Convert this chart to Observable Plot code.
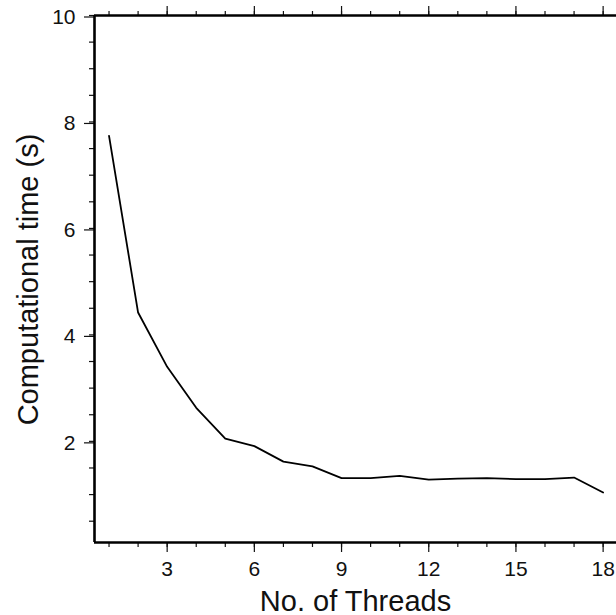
<!DOCTYPE html>
<html>
<head>
<meta charset="utf-8">
<script src="https://cdn.jsdelivr.net/npm/d3@7"></script>
<script src="https://cdn.jsdelivr.net/npm/@observablehq/plot@0.6"></script>
<style>
  html, body { margin: 0; padding: 0; background: #fff; }
  svg { display: block; }
</style>
</head>
<body>
<div id="chart"></div>
<script>
const threads = [1, 2, 3, 4, 5, 6, 7, 8, 9, 10, 11, 12, 13, 14, 15, 16, 17, 18];
const times = [7.74, 4.42, 3.40, 2.63, 2.05, 1.91, 1.62, 1.53, 1.31, 1.31, 1.35, 1.28, 1.30, 1.31, 1.29, 1.29, 1.32, 1.04];
const xMajorTicks = [3, 6, 9, 12, 15, 18];
const xMinorTicks = d3.range(1, 19);
const yMajorTicks = [2, 4, 6, 8, 10];
const yMinorTicks = d3.range(0.5, 10.01, 0.5);
const xLabel = "No. of Threads";
const yLabel = "Computational time (s)";
const xDomain = [0.5, 18.46];
const yDomain = [0.1, 10];

const data = threads.map((t, i) => ({threads: t, time: times[i]}));
const font = "'Liberation Sans', Arial, Helvetica, sans-serif";
const noLabel = () => "";

const chart = Plot.plot({
  width: 616,
  height: 615,
  marginTop: 15,
  marginBottom: 73,
  marginLeft: 94,
  marginRight: 0,
  style: {fontFamily: font, color: "#111", background: "#fff"},
  x: {domain: xDomain},
  y: {domain: yDomain},
  marks: [
    // minor ticks
    Plot.axisX({ticks: xMinorTicks, tickFormat: noLabel, tickSize: 5, anchor: "bottom", strokeWidth: 1.2, label: null}),
    Plot.axisX({ticks: xMinorTicks, tickFormat: noLabel, tickSize: 5, anchor: "top", strokeWidth: 1.2, label: null}),
    Plot.axisY({ticks: yMinorTicks, tickFormat: noLabel, tickSize: 5, anchor: "left", strokeWidth: 1.2, label: null}),
    // major ticks + labels
    Plot.axisX({ticks: xMajorTicks, tickSize: 10, tickPadding: 9, anchor: "bottom", fontSize: 21, strokeWidth: 1.2, label: null}),
    Plot.axisX({ticks: xMajorTicks, tickFormat: noLabel, tickSize: 10, anchor: "top", strokeWidth: 1.2, label: null}),
    Plot.axisY({ticks: yMajorTicks, tickSize: 10, tickPadding: 9, anchor: "left", fontSize: 21, dy: 1.5, strokeWidth: 1.2, label: null}),
    // frame (left, bottom, top)
    Plot.ruleX([xDomain[0]], {stroke: "#000", strokeWidth: 2.6}),
    Plot.ruleY([yDomain[0]], {stroke: "#000", strokeWidth: 2.6}),
    Plot.ruleY([yDomain[1]], {stroke: "#000", strokeWidth: 2.6}),
    // data line
    Plot.line(data, {x: "threads", y: "time", stroke: "#000", strokeWidth: 1.8}),
    // axis titles
    Plot.text([xLabel], {frameAnchor: "bottom", dy: 59.5, fontSize: 29, textAnchor: "middle", lineAnchor: "middle", fill: "#111"}),
    Plot.text([yLabel], {frameAnchor: "left", dx: -65.5, dy: 0.5, rotate: -90, fontSize: 29, textAnchor: "middle", lineAnchor: "middle", fill: "#111"})
  ]
});
document.getElementById("chart").appendChild(chart);
</script>
</body>
</html>
